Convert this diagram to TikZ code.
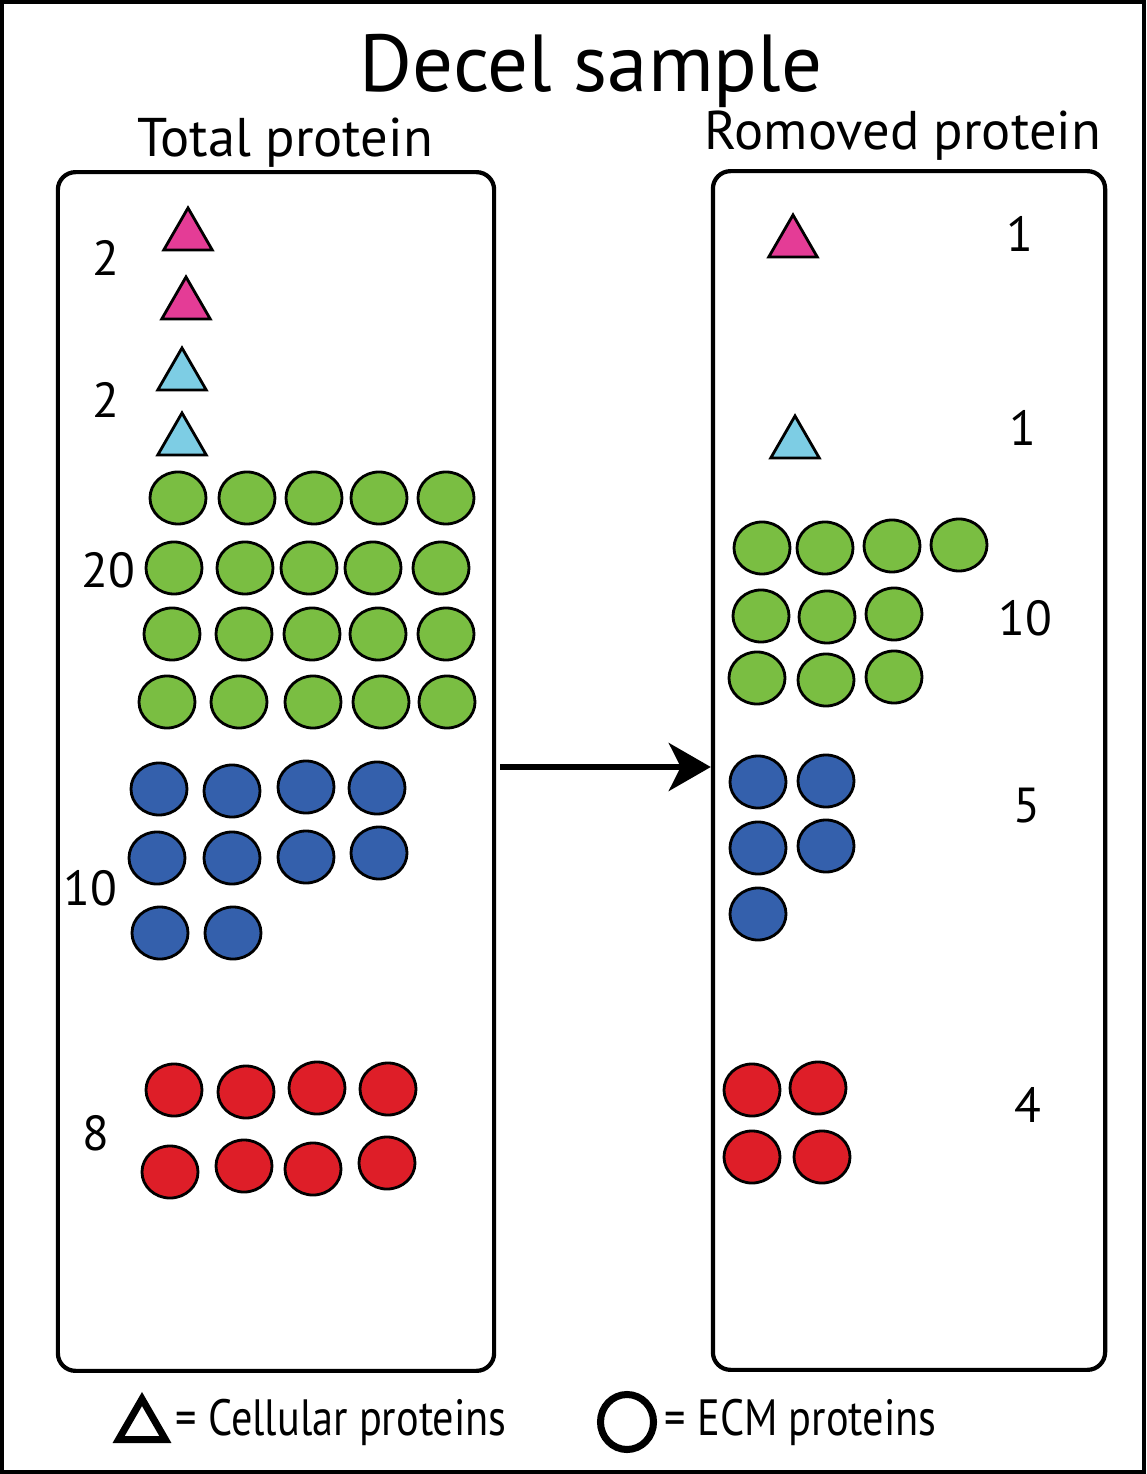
\documentclass[tikz,border=0pt]{standalone}
\usepackage{fontspec}
\setmainfont{PT Sans}
\newfontfamily\legendfont[FakeStretch=0.83]{PT Sans}
\usetikzlibrary{arrows.meta,positioning,shapes.geometric}
\definecolor{cellpink}{RGB}{228,60,150}
\definecolor{cellcyan}{RGB}{125,205,228}
\definecolor{ecmgreen}{RGB}{122,190,66}
\definecolor{ecmblue}{RGB}{52,96,172}
\definecolor{ecmred}{RGB}{222,30,40}

\begin{document}
\begin{tikzpicture}[
    x=0.01cm,
    y=-0.01cm,
    >=Stealth,
    panel/.style={
        draw,
        line width=1.2pt,
        rounded corners=5pt,
        minimum width=#1,
        minimum height=11.98cm,
        inner sep=0pt
    },
    cell/.style={
        regular polygon,
        regular polygon sides=3,
        draw,
        line width=0.8pt,
        minimum size=0.56cm,
        inner sep=0pt,
        fill=#1
    },
    ecm/.style={
        ellipse,
        draw,
        line width=0.8pt,
        minimum width=0.56cm,
        minimum height=0.52cm,
        inner sep=0pt,
        fill=#1
    },
    count/.style={
        font=\fontsize{14}{16}\selectfont
    },
    heading/.style={
        anchor=base,
        font=\fontsize{15.5}{18}\selectfont
    },
    legendtext/.style={
        anchor=base west,
        inner sep=0pt,
        font=\legendfont\fontsize{14.5}{17}\selectfont
    }
]

\useasboundingbox (0,0) rectangle (1146,1474);
\draw[line width=0.04cm] (2,2) rectangle (1144,1472);

% titles
\node[anchor=base, font=\fontsize{23}{27}\selectfont] (title) at (591,92) {Decel sample};
\node[heading] (totalhead) at (285,157) {Total protein};
\node[heading] (removedhead) at (903,150) {Romoved protein};

% the two panels
\node[panel=4.36cm] (total) at (276,771.5) {};
\node[panel=3.92cm] (removed) at (909,770.5) {};

% total protein
\node[cell=cellpink] (tp1) at (188,236) {};
\node[cell=cellpink] (tp2) at (186,305) {};
\node[cell=cellcyan] (tc1) at (182,376) {};
\node[cell=cellcyan] (tc2) at (182,441) {};

\foreach \x/\y [count=\i] in {178/498,247/498,314/498,379/498,446/498,
    174/568,245/568,309/568,373/568,441/568,
    172/634,244/634,312/634,378/634,446/634,
    167/702,239/702,313/702,381/702,447/702}
    \node[ecm=ecmgreen] (tg\i) at (\x,\y) {};

\foreach \x/\y [count=\i] in {159/789,232/791,306/787,377/788,
    157/858,232/858,306/857,379/853,160/933,233/933}
    \node[ecm=ecmblue] (tb\i) at (\x,\y) {};

\foreach \x/\y [count=\i] in {174/1090,246/1092,317/1088,388/1089,
    170/1172,244/1166,313/1169,387/1163}
    \node[ecm=ecmred] (tr\i) at (\x,\y) {};

\node[count] (ntp) at (106,258) {2};
\node[count] (ntc) at (106,400) {2};
\node[count] (ntg) at (108,570) {20};
\node[count] (ntb) at (90,888) {10};
\node[count] (ntr) at (96,1133) {8};

% removed protein
\node[cell=cellpink] (rp1) at (793,243) {};
\node[cell=cellcyan] (rc1) at (795,444) {};

\foreach \x/\y [count=\i] in {762/548,825/548,892/546,959/545,
    761/616,827/617,894/614,757/678,826/680,894/677}
    \node[ecm=ecmgreen] (rg\i) at (\x,\y) {};

\foreach \x/\y [count=\i] in {758/782,826/781,758/848,826/846,758/914}
    \node[ecm=ecmblue] (rb\i) at (\x,\y) {};

\foreach \x/\y [count=\i] in {752/1090,818/1088,752/1157,822/1157}
    \node[ecm=ecmred] (rr\i) at (\x,\y) {};

\node[count] (nrp) at (1020,234) {1};
\node[count] (nrc) at (1023,428) {1};
\node[count] (nrg) at (1025,618) {10};
\node[count] (nrb) at (1027,806) {5};
\node[count] (nrr) at (1028,1105) {4};

% arrow between panels
\coordinate (astart) at (500,767);
\draw[-{Stealth[length=0.42cm,width=0.48cm,inset=0.12cm]}, line width=1.5pt]
    (astart) -- (astart -| removed.west);

% legend
\node[
    regular polygon,
    regular polygon sides=3,
    draw,
    line width=2pt,
    minimum size=0.54cm,
    inner sep=0pt
] (legcell) at (142,1426) {};
\node[legendtext] (legcelltext) at (175,1435) {= Cellular proteins};
\node[
    ellipse,
    draw,
    line width=2pt,
    minimum width=0.53cm,
    minimum height=0.55cm,
    inner sep=0pt
] (legecm) at (627,1422) {};
\node[legendtext] (legecmtext) at (664,1435) {= ECM proteins};

\end{tikzpicture}
\end{document}
